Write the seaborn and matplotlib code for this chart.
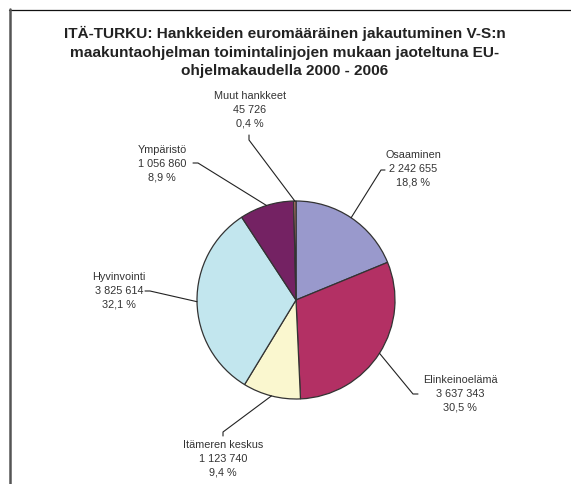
import numpy as np
import seaborn as sns
from matplotlib import pyplot as plt

# chart data
categories = ['Osaaminen', 'Elinkeinoelämä', 'Itämeren keskus',
              'Hyvinvointi', 'Ympäristö', 'Muut hankkeet']
amounts = [2242655, 3637343, 1123740, 3825614, 1056860, 45726]
colors = ['#9999CC', '#B33064', '#FAF7CF', '#C2E6EE', '#742263', '#C47F6E']

title = ("ITÄ-TURKU: Hankkeiden euromääräinen jakautuminen V-S:n\n"
         "maakuntaohjelman toimintalinjojen mukaan jaoteltuna EU-\n"
         "ohjelmakaudella 2000 - 2006")

# label layout in pixel coordinates (x, y from top): text centre, stub start, stub end
label_layout = {
    'Osaaminen': ((413, 169), (385, 170), (381, 170)),
    'Elinkeinoelämä': ((460, 394), (418, 394), (413, 394)),
    'Itämeren keskus': ((223, 459), (223, 436), (223, 432)),
    'Hyvinvointi': ((119, 291), (145, 291), (150, 291)),
    'Ympäristö': ((162, 164), (193, 163), (198, 163)),
    'Muut hankkeet': ((250, 110), (249, 135), (249, 140)),
}

W, H = 571, 484
CX, CY, R = 296, 300, 99


def fmt_int(v):
    return f"{v:,}".replace(',', ' ')


def fmt_pct(p):
    return f"{p:.1f}".replace('.', ',') + ' %'


sns.set_theme(style='white')
plt.rcParams['font.family'] = ['Liberation Sans', 'DejaVu Sans']

fig = plt.figure(figsize=(W / 100, H / 100), dpi=100)
ax = fig.add_axes([0, 0, 1, 1])

wedges, _ = ax.pie(
    amounts,
    colors=colors,
    startangle=90,
    counterclock=False,
    center=(CX, H - CY),
    radius=R,
    wedgeprops=dict(edgecolor='#333333', linewidth=0.9),
)

# pie() resets the limits, so set the pixel-space frame afterwards
ax.set_xlim(0, W)
ax.set_ylim(0, H)
ax.set_aspect('equal')
ax.axis('off')

total = sum(amounts)
for wedge, cat, val in zip(wedges, categories, amounts):
    mid = np.deg2rad((wedge.theta1 + wedge.theta2) / 2)
    ax_x = CX + R * np.cos(mid)
    ax_y = H - CY + R * np.sin(mid)
    (tx, ty), (sx0, sy0), (sx1, sy1) = label_layout[cat]
    ax.plot([sx0, sx1, ax_x], [H - sy0, H - sy1, ax_y],
            color='#222222', lw=0.8, clip_on=False)
    ax.text(tx, H - ty, f"{cat}\n{fmt_int(val)}\n{fmt_pct(val / total * 100)}",
            ha='center', va='center', fontsize=7.8, color='#333333',
            linespacing=1.45)

ax.text(285, H - 52, title, ha='center', va='center', fontsize=11.1,
        fontweight='bold', color='#222222', linespacing=1.38)

# chart frame: top and left edges only
ax.plot([9, W], [H - 9.5, H - 9.5], color='#111111', lw=0.9, clip_on=False)
ax.plot([9.5, 9.5], [H - 9, 0], color='#555555', lw=1.8, clip_on=False)

plt.savefig('out.png', dpi=100)
plt.close()
